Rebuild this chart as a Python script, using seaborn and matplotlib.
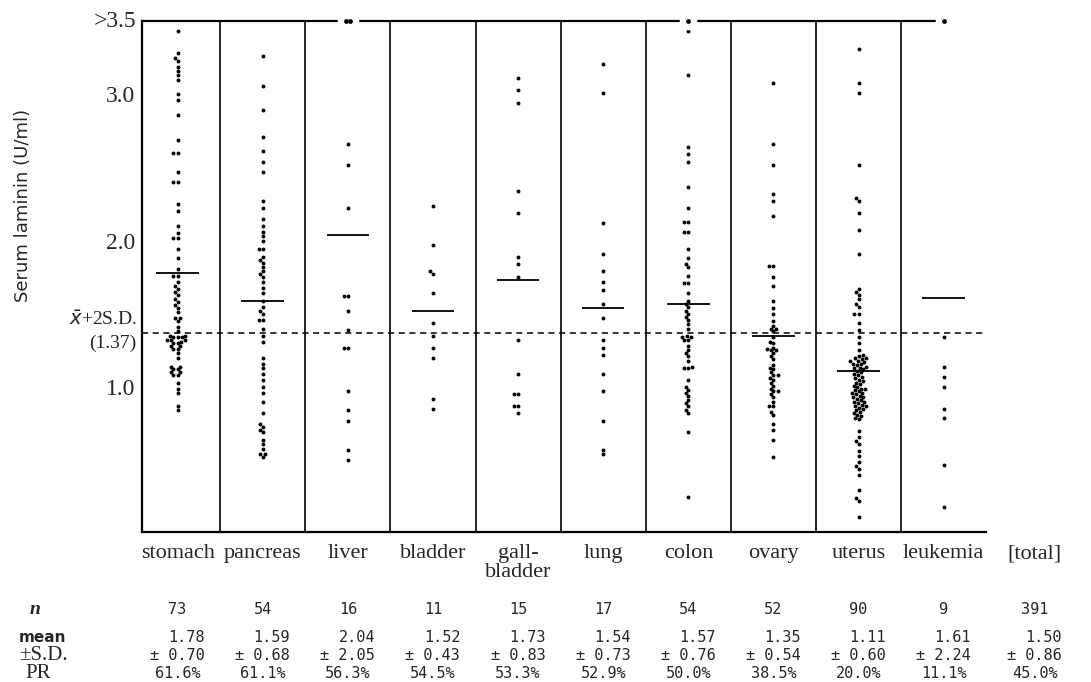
import pandas as pd
import matplotlib.pyplot as plt
import matplotlib.transforms as mtransforms
import seaborn as sns

# ── Data ─────────────────────────────────────────────────────────────────────
sites = ["stomach", "pancreas", "liver", "bladder", "gall-\nbladder",
         "lung", "colon", "ovary", "uterus", "leukemia"]

stomach = [3.43, 3.28, 3.25, 3.23, 3.19, 3.16, 3.13, 3.10, 3.00, 2.96, 2.86,
           2.69, 2.60, 2.60, 2.47, 2.40, 2.40, 2.25, 2.20, 2.10, 2.05, 2.02,
           2.02, 1.94, 1.88, 1.81, 1.76, 1.76, 1.72, 1.69, 1.67, 1.65, 1.63,
           1.60, 1.58, 1.56, 1.54, 1.51, 1.47, 1.47, 1.45, 1.41, 1.38, 1.35,
           1.35, 1.34, 1.34, 1.34, 1.32, 1.32, 1.32, 1.31, 1.30, 1.30, 1.28,
           1.28, 1.26, 1.26, 1.23, 1.20, 1.14, 1.14, 1.12, 1.12, 1.10, 1.10,
           1.08, 1.08, 1.03, 0.99, 0.96, 0.87, 0.84]
pancreas = [3.26, 3.06, 2.89, 2.71, 2.61, 2.54, 2.47, 2.27, 2.22, 2.15, 2.10,
            2.06, 2.03, 2.00, 1.94, 1.94, 1.89, 1.87, 1.85, 1.82, 1.79, 1.77,
            1.75, 1.72, 1.68, 1.64, 1.59, 1.55, 1.52, 1.50, 1.46, 1.46, 1.40,
            1.35, 1.31, 1.20, 1.16, 1.13, 1.09, 1.05, 1.00, 0.96, 0.90, 0.82,
            0.75, 0.73, 0.71, 0.69, 0.64, 0.61, 0.58, 0.54, 0.54, 0.52]
liver = [2.66, 2.52, 2.22, 1.62, 1.62, 1.52, 1.39, 1.27, 1.27, 0.97, 0.84,
         0.77, 0.57, 0.50]
bladder = [2.24, 1.97, 1.79, 1.77, 1.64, 1.44, 1.35, 1.27, 1.20, 0.92, 0.85]
gallbladder = [3.11, 3.03, 2.94, 2.34, 2.19, 1.89, 1.84, 1.75, 1.32, 1.09,
               0.95, 0.95, 0.87, 0.87, 0.82]
lung = [3.21, 3.01, 2.12, 1.91, 1.79, 1.72, 1.66, 1.57, 1.47, 1.32, 1.27,
        1.22, 1.09, 0.97, 0.77, 0.57, 0.54]
colon = [3.43, 3.13, 2.64, 2.59, 2.54, 2.37, 2.22, 2.13, 2.13, 2.06, 2.06,
         1.94, 1.88, 1.84, 1.82, 1.76, 1.71, 1.71, 1.64, 1.59, 1.57, 1.55,
         1.52, 1.50, 1.48, 1.46, 1.43, 1.40, 1.35, 1.34, 1.34, 1.32, 1.32,
         1.28, 1.25, 1.23, 1.21, 1.18, 1.14, 1.13, 1.13, 1.05, 1.00, 0.98,
         0.96, 0.94, 0.91, 0.89, 0.87, 0.84, 0.82, 0.69, 0.25]
ovary = [3.08, 2.66, 2.52, 2.32, 2.27, 2.17, 1.83, 1.83, 1.75, 1.69, 1.59,
         1.54, 1.50, 1.45, 1.42, 1.40, 1.40, 1.38, 1.34, 1.31, 1.30, 1.27,
         1.26, 1.25, 1.25, 1.23, 1.21, 1.19, 1.15, 1.13, 1.12, 1.10, 1.08,
         1.08, 1.06, 1.05, 1.03, 1.01, 0.99, 0.97, 0.97, 0.95, 0.93, 0.90,
         0.87, 0.87, 0.83, 0.81, 0.75, 0.71, 0.64, 0.52]
uterus = [3.31, 3.08, 3.01, 2.52, 2.29, 2.27, 2.19, 2.07, 1.91, 1.67, 1.65,
          1.63, 1.60, 1.57, 1.55, 1.50, 1.50, 1.44, 1.39, 1.34, 1.30, 1.25,
          1.22, 1.21, 1.20, 1.20, 1.19, 1.18, 1.18, 1.17, 1.16, 1.16, 1.15,
          1.14, 1.13, 1.13, 1.12, 1.11, 1.10, 1.09, 1.08, 1.07, 1.06, 1.05,
          1.04, 1.03, 1.02, 1.01, 1.00, 0.99, 0.99, 0.98, 0.97, 0.96, 0.96,
          0.95, 0.94, 0.93, 0.93, 0.92, 0.91, 0.90, 0.90, 0.89, 0.88, 0.87,
          0.87, 0.86, 0.85, 0.84, 0.83, 0.82, 0.81, 0.80, 0.79, 0.78, 0.70,
          0.66, 0.63, 0.61, 0.56, 0.53, 0.49, 0.46, 0.44, 0.40, 0.30, 0.24,
          0.22, 0.11]
leukemia = [1.34, 1.14, 1.07, 1.00, 0.85, 0.79, 0.47, 0.18]

# points above 3.5 U/ml, drawn on the top frame
over_35 = [0, 0, 2, 0, 0, 0, 1, 0, 0, 1]

n_vals   = ["73", "54", "16", "11", "15", "17", "54", "52", "90", "9", "391"]
mean_val = [1.78, 1.59, 2.04, 1.52, 1.73, 1.54, 1.57, 1.35, 1.11, 1.61, 1.50]
sd_val   = [0.70, 0.68, 2.05, 0.43, 0.83, 0.73, 0.76, 0.54, 0.60, 2.24, 0.86]
pr_val   = ["61.6%", "61.1%", "56.3%", "54.5%", "53.3%", "52.9%", "50.0%",
            "38.5%", "20.0%", "11.1%", "45.0%"]
cutoff   = 1.37

groups = [stomach, pancreas, liver, bladder, gallbladder, lung, colon,
          ovary, uterus, leukemia]
df = pd.DataFrame({"site": [s for s, g in zip(sites, groups) for _ in g],
                   "value": [v for g in groups for v in g]})

sns.set_theme(style="white")
plt.rcParams["font.family"] = ["Liberation Serif", "DejaVu Serif"]

fig = plt.figure(figsize=(10.91, 6.82), dpi=100)
ax = fig.add_axes([0.130, 0.220, 0.774, 0.749])

# ── Dots ─────────────────────────────────────────────────────────────────────
sns.swarmplot(data=df, x="site", y="value", order=sites, color="black",
              size=2.8, linewidth=0, ax=ax)

top_x = []
for i, c in enumerate(over_35):
    for k in range(c):
        top_x.append(i + (k - (c - 1) / 2) * 0.05)
# white halo cuts the frame line, black dot on top
ax.scatter(top_x, [3.5] * len(top_x), s=160, color="white", linewidth=0,
           zorder=10, clip_on=False)
ax.scatter(top_x, [3.5] * len(top_x), s=12, color="black", linewidth=0,
           zorder=11, clip_on=False)

# mean bars
x_pos = list(range(len(sites)))
ax.hlines(mean_val[:len(sites)], [x - 0.25 for x in x_pos],
          [x + 0.25 for x in x_pos], color="black", lw=1.3, zorder=4)

# column dividers and cut-off line
for x in x_pos[:-1]:
    ax.axvline(x + 0.5, color="black", lw=1.2, zorder=1)
ax.axhline(cutoff, color="black", lw=1.1, ls=(0, (4, 3)), zorder=2)

# ── Axes ─────────────────────────────────────────────────────────────────────
ax.set_xlim(-0.42, 9.5)
ax.set_ylim(0.01, 3.5)
ax.set_xticks([])
ax.set_yticks([1.0, 2.0, 3.0])
ax.set_yticklabels(["1.0", "2.0", "3.0"], fontsize=17)
ax.tick_params(axis="y", direction="in", length=12, width=1.2, pad=5)
ax.set_xlabel("")
ax.set_ylabel("")
for side in ["left", "top", "bottom"]:
    ax.spines[side].set_color("black")
    ax.spines[side].set_linewidth(1.6)
    ax.spines[side].set_zorder(3)
ax.spines["right"].set_visible(False)
ax.spines["top"].set_bounds(-0.42, 9.0)

yt = mtransforms.blended_transform_factory(ax.transAxes, ax.transData)
ax.text(-0.006, 3.5, ">3.5", transform=yt, ha="right", va="center",
        fontsize=17)
ax.text(-0.006, cutoff + 0.09, r"$\bar{x}$+2S.D.", transform=yt,
        ha="right", va="center", fontsize=14)
ax.text(-0.006, cutoff - 0.07, "(1.37)", transform=yt, ha="right",
        va="center", fontsize=14)
fig.text(0.021, 1 - 205 / 682, "Serum laminin (U/ml)", rotation=90,
         ha="center", va="center", fontsize=13, family="DejaVu Sans")

# ── Table under the plot ─────────────────────────────────────────────────────
tt = mtransforms.blended_transform_factory(ax.transData, fig.transFigure)
cols = x_pos + [10.07]
labels = sites + ["[total]"]
mono = "DejaVu Sans Mono"
for x, lab, n, m, sd, pr in zip(cols, labels, n_vals, mean_val, sd_val,
                                 pr_val):
    ax.text(x, 1 - 544 / 682, lab, transform=tt, ha="center", va="top",
            fontsize=16, linespacing=1.0, clip_on=False)
    ax.text(x, 1 - 610 / 682, n, transform=tt, ha="center", va="center",
            fontsize=11, family=mono, clip_on=False)
    ax.text(x + 0.32, 1 - 638 / 682, f"{m:.2f}", transform=tt, ha="right",
            va="center", fontsize=11, family=mono, clip_on=False)
    ax.text(x + 0.32, 1 - 655 / 682, f"± {sd:.2f}", transform=tt,
            ha="right", va="center", fontsize=11, family=mono,
            clip_on=False)
    ax.text(x, 1 - 673 / 682, pr, transform=tt, ha="center", va="center",
            fontsize=11, family=mono, clip_on=False)

fig.text(35 / 1091, 1 - 610 / 682, "n", ha="center", va="center",
         fontsize=14, style="italic", weight="bold")
fig.text(42 / 1091, 1 - 637 / 682, "mean", ha="center", va="center",
         fontsize=11, weight="bold", family="DejaVu Sans")
fig.text(43 / 1091, 1 - 655 / 682, "±S.D.", ha="center", va="center",
         fontsize=15)
fig.text(38 / 1091, 1 - 673 / 682, "PR", ha="center", va="center",
         fontsize=15)

fig.savefig("out.png", dpi=100)
